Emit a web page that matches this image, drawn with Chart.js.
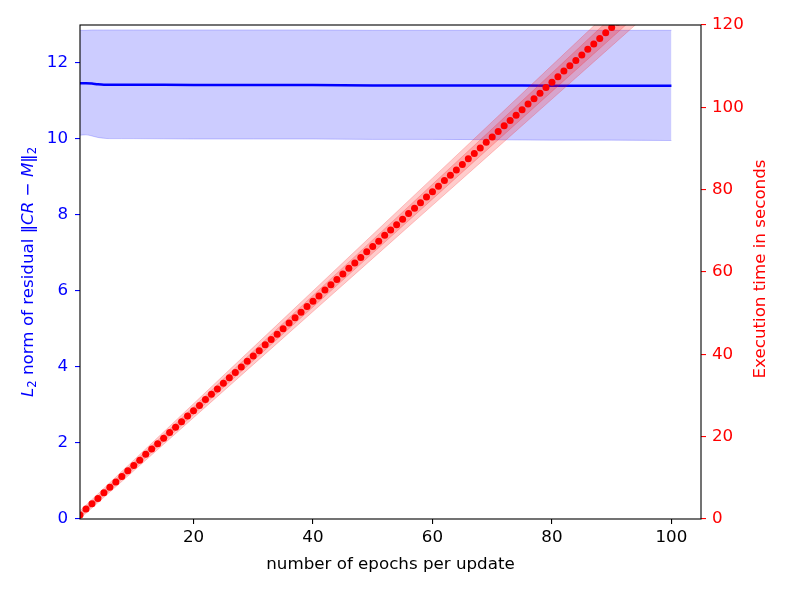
<!DOCTYPE html>
<html>
<head>
<meta charset="utf-8">
<script src="https://cdn.jsdelivr.net/npm/chart.js@4.4.0/dist/chart.umd.min.js"></script>
<style>body{margin:0;background:#fff}</style>
</head>
<body>
<canvas id="my-chart" width="789" height="592"></canvas>
<script>
// epochs per update (x) and measured execution time (right axis)
const epochs = [1,2,3,4,5,6,7,8,9,10,11,12,13,14,15,16,17,18,19,20,
  21,22,23,24,25,26,27,28,29,30,31,32,33,34,35,36,37,38,39,40,
  41,42,43,44,45,46,47,48,49,50,51,52,53,54,55,56,57,58,59,60,
  61,62,63,64,65,66,67,68,69,70,71,72,73,74,75,76,77,78,79,80,
  81,82,83,84,85,86,87,88,89,90,91,92,93,94,95,96,97,98,99,100];
const execTime = [1.0,2.4,3.7,5.0,6.4,7.7,9.0,10.3,11.7,13.0,
  14.3,15.7,17.0,18.3,19.6,21.0,22.3,23.6,25.0,26.3,
  27.6,29.0,30.3,31.6,33.0,34.3,35.6,36.9,38.3,39.6,
  40.9,42.3,43.6,44.9,46.2,47.6,48.9,50.2,51.6,52.9,
  54.2,55.6,56.9,58.2,59.5,60.9,62.2,63.5,64.9,66.2,
  67.5,68.9,70.2,71.5,72.8,74.2,75.5,76.8,78.2,79.5,
  80.8,82.2,83.5,84.8,86.1,87.5,88.8,90.1,91.5,92.8,
  94.1,95.5,96.8,98.1,99.4,100.8,102.1,103.4,104.8,106.1,
  107.4,108.8,110.1,111.4,112.7,114.1,115.4,116.7,118.1,119.4,
  120.7,122.1,123.4,124.7,126.0,127.4,128.7,130.0,131.4,132.7];

// spread of the execution time (straight-ish bands, so fewer points)
const timeBandX = [1,10,20,30,40,50,60,70,80,90,100];
const timeOuterHi = [2.0,14.3,28.0,41.7,55.4,69.1,82.8,96.5,110.2,123.9,137.6];
const timeOuterLo = [0.1,11.7,24.6,37.5,50.4,63.3,76.2,89.1,102.0,114.9,127.8];
const timeInnerHi = [1.5,13.7,27.2,40.75,54.3,67.8,81.3,94.8,108.35,121.9,135.4];
const timeInnerLo = [0.5,12.3,25.4,38.45,51.5,64.6,77.7,90.8,103.85,116.9,130.0];

// residual norm (left axis)
const residX = [1,2,3,4,5,6,8,10,20,30,40,50,60,70,80,90,100];
const residMean = [11.47,11.47,11.46,11.44,11.43,11.43,11.43,11.43,11.42,11.42,11.42,11.41,11.41,11.41,11.40,11.40,11.40];
const residHi = [12.86,12.86,12.87,12.87,12.87,12.87,12.87,12.87,12.87,12.87,12.87,12.86,12.86,12.86,12.86,12.86,12.86];
const residLo = [10.10,10.11,10.08,10.04,10.02,10.01,10.01,10.01,10.00,10.00,10.00,9.99,9.99,9.98,9.97,9.97,9.96];

const xTicks = [20,40,60,80,100];
const leftTicks = [0,2,4,6,8,10,12];
const rightTicks = [0,20,40,60,80,100,120];

const pts = (xs, ys) => xs.map((x, i) => ({x: x, y: ys[i]}));
const FS = 16.7;
const font = {family: 'DejaVu Sans', size: FS};

// frame and axis titles (left one has math italics, both vertical read bottom-up)
const decor = {
  id: 'decor',
  afterDraw(chart) {
    const {ctx, chartArea: a} = chart;
    const midY = (a.top + a.bottom) / 2;
    ctx.save();
    ctx.strokeStyle = '#000';
    ctx.lineWidth = 1.1;
    ctx.strokeRect(a.left, a.top, a.right - a.left, a.bottom - a.top);

    ctx.textBaseline = 'middle';
    ctx.textAlign = 'center';
    ctx.fillStyle = '#000';
    ctx.font = FS + 'px "DejaVu Sans"';
    ctx.fillText('number of epochs per update', (a.left + a.right) / 2, 565);

    ctx.save();
    ctx.translate(761, midY - 3);
    ctx.rotate(-Math.PI / 2);
    ctx.fillStyle = 'rgb(255,0,0)';
    ctx.fillText('Execution time in seconds', 0, 0);
    ctx.restore();

    const segs = [
      ['L', 'italic', 1, 0], ['2', '', 0.7, 4], [' norm of residual \u2016', '', 1, 0],
      ['CR', 'italic', 1, 0], [' \u2212 ', '', 1, 0], ['M', 'italic', 1, 0],
      ['\u2016', '', 1, 0], ['2', '', 0.7, 4]
    ];
    const fontOf = s => (s[1] ? s[1] + ' ' : '') + (FS * s[2]) + 'px "DejaVu Sans"';
    let total = 0;
    segs.forEach(s => { ctx.font = fontOf(s); total += ctx.measureText(s[0]).width; });
    ctx.translate(29, midY);
    ctx.rotate(-Math.PI / 2);
    ctx.textAlign = 'left';
    ctx.fillStyle = 'rgb(0,0,255)';
    let x = -total / 2;
    segs.forEach(s => {
      ctx.font = fontOf(s);
      ctx.fillText(s[0], x, s[3]);
      x += ctx.measureText(s[0]).width;
    });
    ctx.restore();
  }
};

const ctx = document.getElementById('my-chart').getContext('2d');
const chart = new Chart(ctx, {
  type: 'line',
  data: {
    datasets: [
      {data: pts(epochs, execTime), yAxisID: 'y2', showLine: false, pointRadius: 3.5,
       pointBackgroundColor: 'rgb(255,0,0)', pointBorderWidth: 0, clip: 0},
      {data: pts(timeBandX, timeInnerHi), yAxisID: 'y2', fill: '+1', pointRadius: 0,
       borderWidth: 1, borderColor: 'rgba(255,0,0,0.2)', backgroundColor: 'rgba(255,0,0,0.2)'},
      {data: pts(timeBandX, timeInnerLo), yAxisID: 'y2', pointRadius: 0,
       borderWidth: 1, borderColor: 'rgba(255,0,0,0.2)'},
      {data: pts(timeBandX, timeOuterHi), yAxisID: 'y2', fill: '+1', pointRadius: 0,
       borderWidth: 1, borderColor: 'rgba(255,0,0,0.2)', backgroundColor: 'rgba(255,0,0,0.2)'},
      {data: pts(timeBandX, timeOuterLo), yAxisID: 'y2', pointRadius: 0,
       borderWidth: 1, borderColor: 'rgba(255,0,0,0.2)'},
      {data: pts(residX, residMean), yAxisID: 'y', pointRadius: 0,
       borderWidth: 2.5, borderColor: 'rgb(0,0,255)', cubicInterpolationMode: 'monotone'},
      {data: pts(residX, residHi), yAxisID: 'y', fill: '+1', pointRadius: 0,
       borderWidth: 1, borderColor: 'rgba(0,0,255,0.2)', backgroundColor: 'rgba(0,0,255,0.2)'},
      {data: pts(residX, residLo), yAxisID: 'y', pointRadius: 0,
       borderWidth: 1, borderColor: 'rgba(0,0,255,0.2)', cubicInterpolationMode: 'monotone'}
    ]
  },
  options: {
    responsive: false,
    animation: false,
    layout: {padding: {top: 25, left: 0, right: 0, bottom: 0}},
    plugins: {legend: {display: false}, tooltip: {enabled: false}},
    scales: {
      x: {
        type: 'linear', min: 1, max: 104.95,
        afterBuildTicks: s => { s.ticks = xTicks.map(v => ({value: v})); },
        afterFit: s => { s.height = 73; },
        border: {display: false},
        grid: {drawOnChartArea: false, tickLength: 5, color: '#000', lineWidth: 1.1},
        ticks: {color: '#000', font: font, padding: 4, maxRotation: 0}
      },
      y: {
        position: 'left', min: 0, max: 13,
        afterBuildTicks: s => { s.ticks = leftTicks.map(v => ({value: v})); },
        afterFit: s => { s.width = 80; },
        border: {display: false},
        grid: {drawOnChartArea: false, tickLength: 5, color: 'rgb(0,0,255)', lineWidth: 1.1},
        ticks: {color: 'rgb(0,0,255)', font: font, padding: 7}
      },
      y2: {
        position: 'right', min: 0, max: 120,
        afterBuildTicks: s => { s.ticks = rightTicks.map(v => ({value: v})); },
        afterFit: s => { s.width = 88; },
        border: {display: false},
        grid: {drawOnChartArea: false, tickLength: 5, color: 'rgb(255,0,0)', lineWidth: 1.1},
        ticks: {color: 'rgb(255,0,0)', font: font, padding: 6}
      }
    }
  },
  plugins: [decor]
});
</script>
</body>
</html>
